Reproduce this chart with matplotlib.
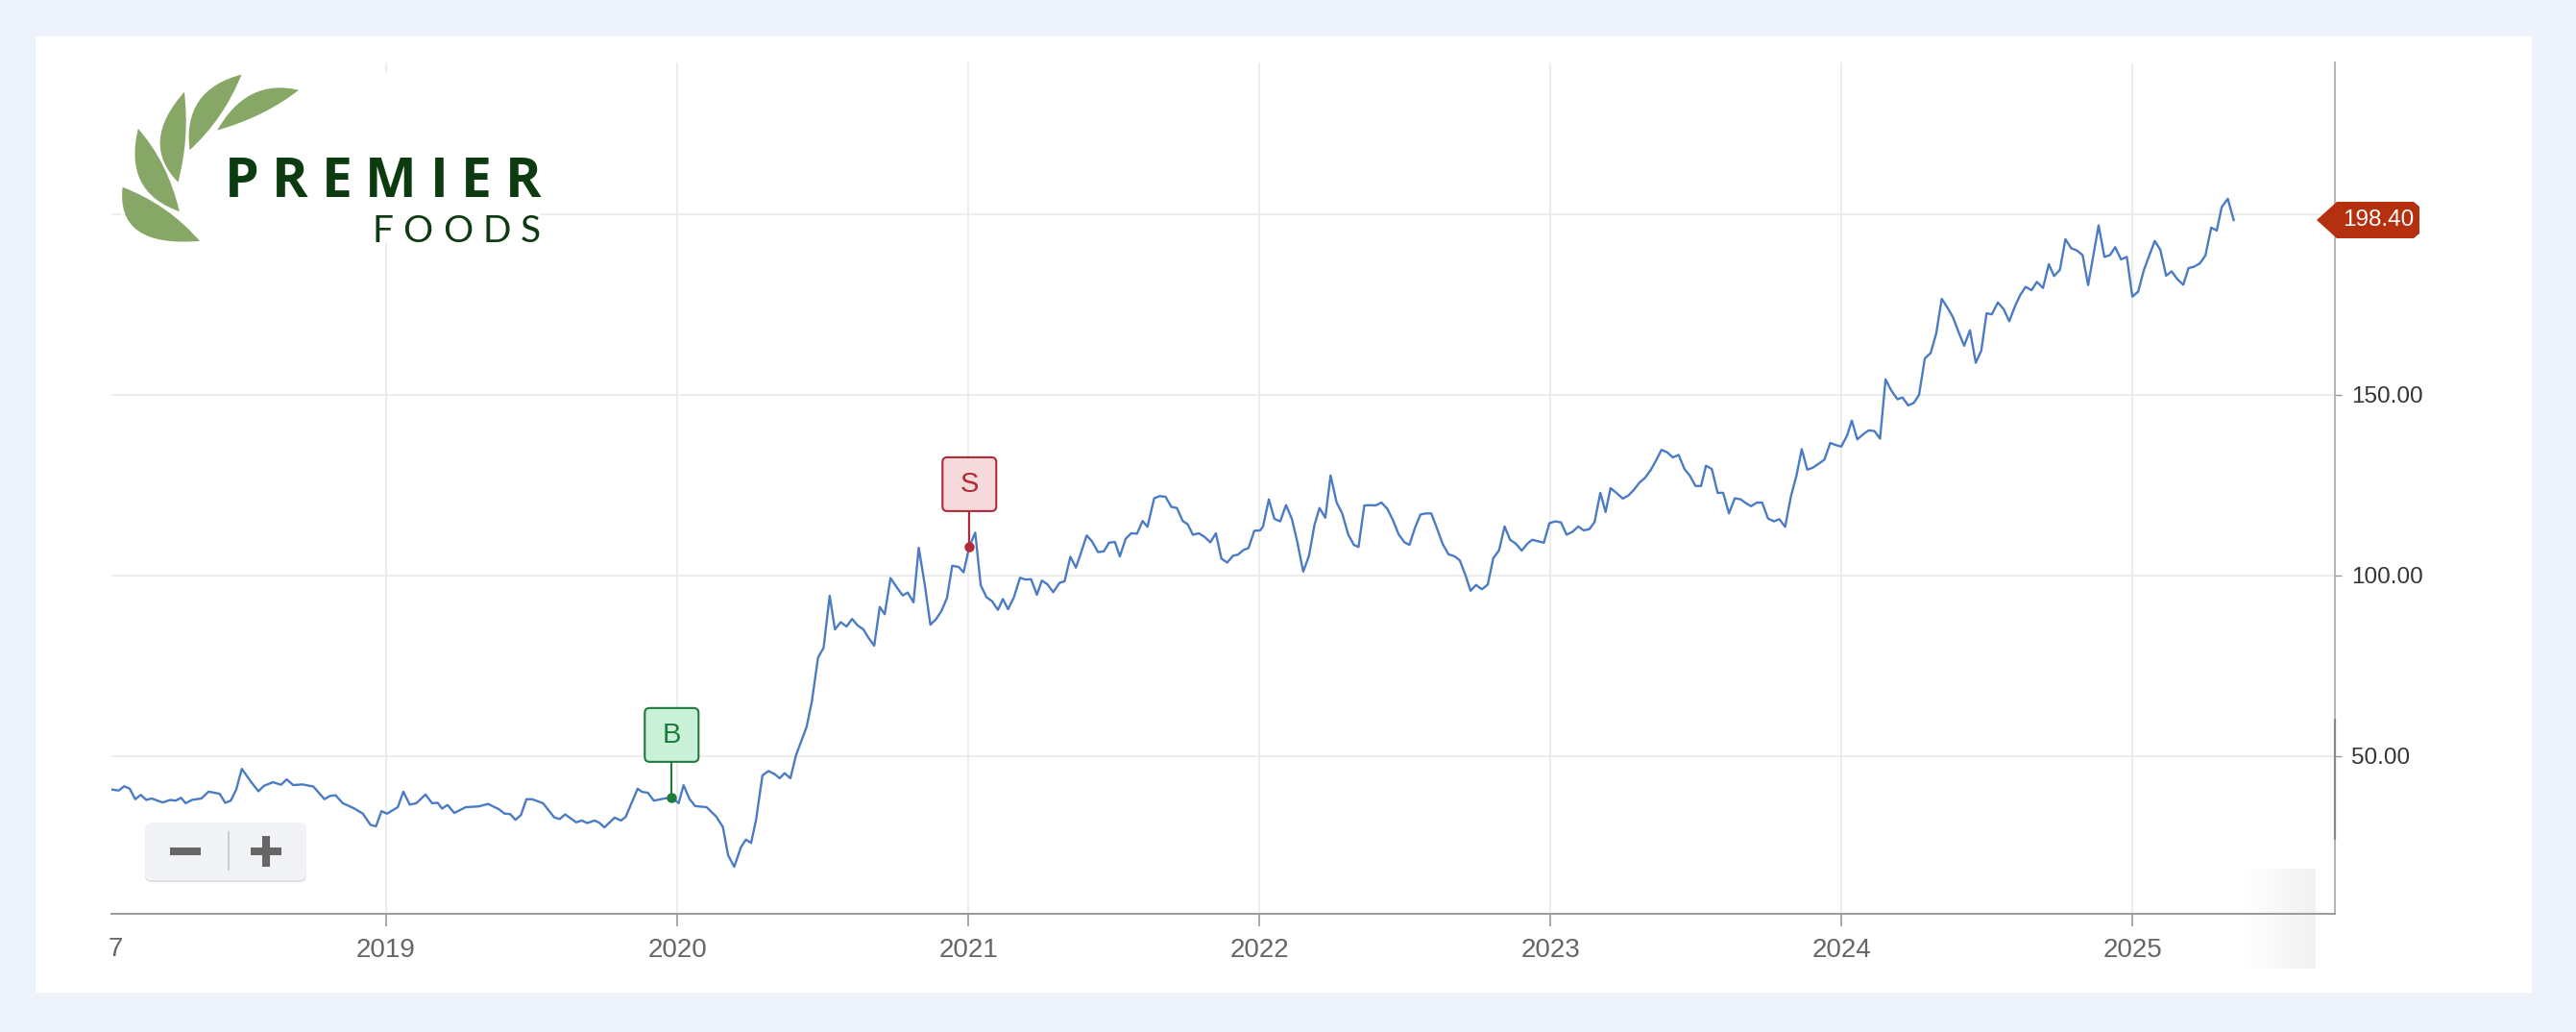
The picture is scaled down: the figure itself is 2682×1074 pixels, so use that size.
import numpy as np
import matplotlib.pyplot as plt
from matplotlib.patches import FancyBboxPatch, Rectangle, Polygon, PathPatch
from matplotlib.path import Path
from matplotlib.lines import Line2D
from matplotlib.transforms import Affine2D, ScaledTranslation
from matplotlib.colors import LinearSegmentedColormap

plt.rcParams['font.family'] = ['Liberation Sans', 'DejaVu Sans']

W, H = 2682, 1074

# weekly closes (decimal years)
years = [
    2018.056, 2018.081, 2018.100, 2018.119, 2018.138, 2018.157, 2018.176, 2018.194, 2018.232, 2018.258,
    2018.277, 2018.295, 2018.311, 2018.333, 2018.365, 2018.390, 2018.428, 2018.447, 2018.466, 2018.485,
    2018.504, 2018.535, 2018.561, 2018.580, 2018.611, 2018.639, 2018.658, 2018.681, 2018.712, 2018.750,
    2018.788, 2018.807, 2018.826, 2018.851, 2018.889, 2018.920, 2018.946, 2018.965, 2018.984, 2019.003,
    2019.040, 2019.059, 2019.081, 2019.104, 2019.135, 2019.158, 2019.177, 2019.192, 2019.211, 2019.234,
    2019.274, 2019.318, 2019.350, 2019.388, 2019.407, 2019.426, 2019.444, 2019.463, 2019.482, 2019.501,
    2019.539, 2019.577, 2019.596, 2019.615, 2019.653, 2019.672, 2019.691, 2019.716, 2019.732, 2019.750,
    2019.785, 2019.807, 2019.823, 2019.864, 2019.880, 2019.899, 2019.920, 2019.956, 2019.981,
    2020.005, 2020.022, 2020.042, 2020.062, 2020.101, 2020.134, 2020.157, 2020.175, 2020.196, 2020.219,
    2020.236, 2020.254, 2020.271, 2020.293, 2020.314, 2020.336, 2020.352, 2020.369, 2020.389, 2020.408,
    2020.445, 2020.463, 2020.484, 2020.503, 2020.524, 2020.542, 2020.562, 2020.582, 2020.601, 2020.620,
    2020.640, 2020.657, 2020.677, 2020.696, 2020.713, 2020.733, 2020.755, 2020.775, 2020.792, 2020.812,
    2020.830, 2020.851, 2020.870, 2020.890, 2020.908, 2020.927, 2020.945, 2020.967, 2020.984, 2021.004,
    2021.024, 2021.043, 2021.063, 2021.082, 2021.102, 2021.119, 2021.137, 2021.157, 2021.178, 2021.196,
    2021.216, 2021.236, 2021.253, 2021.272, 2021.292, 2021.314, 2021.331, 2021.351, 2021.370, 2021.387,
    2021.407, 2021.425, 2021.446, 2021.466, 2021.484, 2021.504, 2021.521, 2021.541, 2021.560, 2021.580,
    2021.599, 2021.616, 2021.639, 2021.658, 2021.678, 2021.698, 2021.717, 2021.737, 2021.754, 2021.772,
    2021.793, 2021.812, 2021.832, 2021.851, 2021.870, 2021.890, 2021.910, 2021.927, 2021.946, 2021.963,
    2021.983, 2022.003,
    2022.013, 2022.033, 2022.052, 2022.072, 2022.092, 2022.112, 2022.131, 2022.151, 2022.171, 2022.190,
    2022.207, 2022.227, 2022.245, 2022.266, 2022.285, 2022.306, 2022.325, 2022.341, 2022.361, 2022.381,
    2022.400, 2022.420, 2022.440, 2022.459, 2022.479, 2022.499, 2022.516, 2022.535, 2022.554, 2022.573,
    2022.591, 2022.610, 2022.630, 2022.650, 2022.672, 2022.689, 2022.709, 2022.726, 2022.745, 2022.765,
    2022.785, 2022.804, 2022.824, 2022.843, 2022.862, 2022.882, 2022.902, 2022.921, 2022.938, 2022.958,
    2022.978, 2022.997, 2023.017, 2023.037, 2023.056, 2023.076, 2023.096, 2023.115, 2023.135, 2023.152,
    2023.172, 2023.190, 2023.207, 2023.227, 2023.249, 2023.269, 2023.289, 2023.306, 2023.325, 2023.345,
    2023.365, 2023.382, 2023.402, 2023.421, 2023.441, 2023.461, 2023.479, 2023.499, 2023.518, 2023.535,
    2023.555, 2023.575, 2023.594, 2023.614, 2023.634, 2023.654, 2023.673, 2023.690, 2023.710, 2023.728,
    2023.748, 2023.768, 2023.787, 2023.807, 2023.827, 2023.846, 2023.864, 2023.883, 2023.903, 2023.923,
    2023.942, 2023.962, 2023.982,
    2024.000, 2024.020, 2024.036, 2024.055, 2024.075, 2024.094, 2024.114, 2024.133, 2024.152, 2024.171,
    2024.193, 2024.210, 2024.230, 2024.249, 2024.267, 2024.287, 2024.307, 2024.326, 2024.345, 2024.365,
    2024.383, 2024.403, 2024.422, 2024.442, 2024.462, 2024.481, 2024.499, 2024.517, 2024.538, 2024.558,
    2024.577, 2024.597, 2024.615, 2024.633, 2024.654, 2024.672, 2024.693, 2024.713, 2024.731, 2024.751,
    2024.770, 2024.790, 2024.809, 2024.829, 2024.848, 2024.865, 2024.884, 2024.904, 2024.923, 2024.941,
    2024.961, 2024.981, 2025.000, 2025.020, 2025.039, 2025.059, 2025.077, 2025.096, 2025.116, 2025.135,
    2025.155, 2025.175, 2025.193, 2025.212, 2025.232, 2025.251, 2025.271, 2025.290, 2025.307, 2025.328,
    2025.348,
]
prices = [
    40.8, 40.5, 41.7, 41.0, 38.1, 39.3, 37.9, 38.3, 37.2, 37.9,
    37.7, 38.5, 37.0, 37.9, 38.3, 40.2, 39.6, 37.1, 37.7, 40.8,
    46.5, 43.0, 40.3, 41.8, 42.8, 42.1, 43.6, 42.0, 42.2, 41.6,
    38.1, 39.0, 39.2, 37.0, 35.6, 34.1, 31.0, 30.6, 34.8, 34.1,
    35.9, 40.2, 36.6, 37.0, 39.4, 37.0, 37.1, 35.5, 36.5, 34.3,
    35.9, 36.1, 36.8, 35.3, 34.1, 34.0, 32.4, 33.7, 38.1, 38.1,
    37.0, 33.1, 32.6, 33.9, 31.7, 32.2, 31.5, 32.2, 31.6, 30.3,
    33.0, 32.2, 33.2, 41.0, 40.1, 39.9, 37.7, 38.3, 38.6,
    37.0, 42.0, 38.2, 36.2, 35.9, 33.3, 30.4, 22.6, 19.4, 24.8,
    26.9, 26.0, 32.4, 44.7, 45.9, 45.0, 43.9, 45.3, 43.9, 50.2,
    58.2, 65.3, 77.3, 80.0, 94.4, 85.1, 87.1, 85.9, 88.0, 86.2,
    85.1, 82.8, 80.6, 91.3, 89.3, 99.3, 96.7, 94.5, 95.3, 92.6,
    107.7, 97.3, 86.4, 88.0, 90.2, 93.8, 102.7, 102.4, 100.9, 108.0,
    111.9, 97.3, 94.0, 92.9, 90.5, 93.5, 90.7, 94.0, 99.4, 98.9,
    99.0, 94.7, 98.6, 97.6, 95.4, 98.0, 98.4, 105.2, 102.2, 106.2,
    111.1, 109.5, 106.5, 106.7, 109.1, 109.3, 105.3, 110.2, 111.7, 111.6,
    115.1, 113.5, 121.4, 122.0, 121.8, 119.0, 118.7, 115.1, 114.2, 111.3,
    111.7, 110.7, 109.2, 111.7, 104.7, 103.6, 105.5, 105.8, 107.1, 107.6,
    112.4, 112.5,
    113.6, 121.1, 115.7, 115.0, 119.5, 115.7, 109.2, 101.1, 105.5, 114.1,
    118.7, 116.0, 127.7, 120.2, 117.2, 111.3, 108.5, 107.9, 119.4, 119.5,
    119.4, 120.2, 118.5, 115.4, 111.4, 109.2, 108.5, 113.2, 116.9, 117.2,
    117.2, 113.2, 108.8, 105.9, 105.3, 104.2, 100.0, 95.8, 97.4, 96.2,
    97.5, 104.8, 107.0, 113.6, 109.9, 108.8, 106.9, 108.8, 109.9, 109.5,
    109.1, 114.5, 115.0, 114.7, 111.3, 112.1, 113.6, 112.5, 112.9, 114.8,
    122.9, 117.6, 124.2, 122.9, 121.3, 122.2, 123.9, 125.7, 127.0, 129.2,
    132.1, 134.8, 134.1, 132.7, 133.4, 129.5, 127.7, 124.8, 124.8, 130.4,
    129.5, 122.9, 122.9, 117.2, 121.4, 121.1, 120.0, 119.2, 120.2, 120.2,
    115.8, 115.0, 115.6, 113.5, 122.0, 127.7, 135.0, 129.3, 129.9, 131.0,
    132.1, 136.7, 136.1,
    135.7, 138.8, 142.9, 137.7, 139.1, 140.2, 140.0, 137.9, 154.3, 151.3,
    148.8, 149.3, 147.1, 147.8, 150.0, 160.1, 161.6, 167.0, 176.6, 174.1,
    171.6, 167.4, 163.6, 167.9, 158.9, 162.3, 172.6, 172.3, 175.6, 173.7,
    170.4, 174.6, 177.7, 179.9, 179.0, 181.3, 179.6, 186.2, 182.9, 184.6,
    193.1, 190.6, 190.0, 188.7, 180.4, 188.2, 196.9, 188.2, 188.7, 190.9,
    187.5, 188.2, 177.2, 178.6, 184.4, 188.8, 192.6, 190.2, 183.0, 184.2,
    182.0, 180.5, 185.1, 185.5, 186.4, 188.6, 196.3, 195.5, 202.0, 204.3,
    198.4,
]

trade_labels = ['B', 'S']
trade_years = [2019.981, 2021.004]
trade_prices = [38.6, 108.0]
trade_faces = ['#c9f1d8', '#f5d9db']
trade_edges = ['#1f7a3c', '#b12a38']

xtick_years = [2019, 2020, 2021, 2022, 2023, 2024, 2025]
ytick_vals = [50, 100, 150, 200]
last_price = 198.40

fig = plt.figure(figsize=(W / 100, H / 100), dpi=100, facecolor='#eef2fa')
px = Affine2D().scale(1 / W, -1 / H).translate(0, 1) + fig.transFigure

# white card
fig.add_artist(Rectangle((37, 38), 2599, 995, transform=px, fc='white', ec='none', zorder=-2))

# faint fade at the bottom right of the axis
grad_ax = fig.add_axes([2338 / W, 1 - 1008 / H, 73 / W, 104 / H], zorder=-1)
grad_ax.imshow(np.linspace(0, 1, 64)[None, :], aspect='auto',
               cmap=LinearSegmentedColormap.from_list('fade', ['#ffffff', '#f1f1f1']))
grad_ax.axis('off')

ax = fig.add_axes([116 / W, 1 - 951 / H, (2431 - 116) / W, (951 - 65) / H])
ax.set_facecolor('none')
ax.plot(years, prices, color='#4a7bc4', lw=1.7, zorder=3, solid_joinstyle='round')
ax.set_xlim(2018.056, 2025.696)
ax.set_ylim(6.38, 242.02)

ax.grid(True, color='#e8e8e8', lw=1.1)
ax.set_axisbelow(True)
for s in ('top', 'left'):
    ax.spines[s].set_visible(False)
ax.spines['bottom'].set_color('#9a9a9a')
ax.spines['bottom'].set_linewidth(1.4)
ax.spines['right'].set_color('#a8a8a8')
ax.spines['right'].set_linewidth(1.2)

ax.set_xticks(xtick_years)
ax.set_xticklabels([str(y) for y in xtick_years])
ax.yaxis.tick_right()
ax.set_yticks(ytick_vals)
ax.set_yticklabels(['' if v == 200 else f'{v:.2f}' for v in ytick_vals])
ax.tick_params(axis='x', direction='out', length=9, width=1.2, color='#9a9a9a',
               labelsize=20, labelcolor='#666666', pad=9)
ax.tick_params(axis='y', direction='out', length=5, width=1.0, color='#9a9a9a',
               labelsize=17.5, labelcolor='#333333', pad=7)

# clipped label at the left edge
fig.text(128 / W, 1 - 988 / H, '7', ha='right', va='center', fontsize=20, color='#666666')

# navigator handle on the right spine
fig.add_artist(Line2D([2431, 2431], [749, 873], transform=px, color='#8a8a8a', lw=1.6, zorder=2))

# buy / sell flags
for lab, tx, tp, fc, ec in zip(trade_labels, trade_years, trade_prices, trade_faces, trade_edges):
    ax.plot(tx, tp, 'o', color=ec, ms=6.5, zorder=5)
    tr = fig.dpi_scale_trans + ScaledTranslation(tx, tp, ax.transData)
    fig.add_artist(Line2D([0, 0], [0, 0.37], transform=tr, color=ec, lw=1.5, zorder=6))
    fig.add_artist(FancyBboxPatch((-0.28, 0.37), 0.56, 0.56, boxstyle='round,pad=0,rounding_size=0.05',
                                  transform=tr, fc=fc, ec=ec, lw=1.5, zorder=6))
    fig.text(0, 0.65, lab, transform=tr, ha='center', va='center', fontsize=21, color=ec, zorder=7)

# last price tag
tr = fig.dpi_scale_trans + ScaledTranslation(2025.696, last_price, ax.transData)
tag = [(-0.19, 0), (0.02, 0.19), (0.82, 0.19), (0.88, 0.14), (0.88, -0.14), (0.82, -0.19), (0.02, -0.19)]
fig.add_artist(Polygon(tag, closed=True, transform=tr, fc='#b5300f', ec='none', zorder=8))
fig.text(0.45, 0, f'{last_price:.2f}', transform=tr, ha='center', va='center', fontsize=17.5,
         color='white', zorder=9)

# zoom buttons
fig.add_artist(FancyBboxPatch((151, 858), 168, 60, boxstyle='round,pad=0,rounding_size=7',
                              transform=px, fc='#dfe0e5', ec='none', zorder=4))
fig.add_artist(FancyBboxPatch((151, 856), 168, 60, boxstyle='round,pad=0,rounding_size=7',
                              transform=px, fc='#f2f3f7', ec='none', zorder=4))
fig.add_artist(Line2D([238, 238], [866, 905], transform=px, color='#c6c7cc', lw=1.2, zorder=5))
fig.add_artist(Line2D([177, 209], [886, 886], transform=px, color='#666666', lw=5.8,
                      solid_capstyle='butt', zorder=5))
fig.add_artist(Line2D([261, 293], [886, 886], transform=px, color='#666666', lw=5.8,
                      solid_capstyle='butt', zorder=5))
fig.add_artist(Line2D([277, 277], [870, 902], transform=px, color='#666666', lw=5.8,
                      solid_capstyle='butt', zorder=5))

# logo
fig.add_artist(Rectangle((127, 76), 436, 176, transform=px, fc='white', ec='none', zorder=4))
leaves = [
    ((126.7, 193.3), (210.0, 251.7), (118.5, 260.0), (176.5, 212.0)),
    ((143.3, 131.7), (188.3, 221.7), (125.5, 201.0), (176.0, 168.0)),
    ((192.7, 93.3), (186.0, 191.7), (142.0, 148.7), (199.0, 143.5)),
    ((253.3, 76.0), (196.7, 158.3), (187.5, 92.0), (234.0, 125.0)),
    ((313.3, 93.3), (224.0, 137.3), (256.5, 78.3), (276.0, 123.0)),
]
for a, b, co, ci in leaves:
    verts = [a, co, b, ci, a, a]
    codes = [Path.MOVETO, Path.CURVE3, Path.CURVE3, Path.CURVE3, Path.CURVE3, Path.CLOSEPOLY]
    fig.add_artist(PathPatch(Path(verts, codes), transform=px, fc='#87a766', ec='white',
                             lw=1.5, zorder=5))


def spaced(s, x0, x1, y_base, **kw):
    r = fig.canvas.get_renderer()
    ts = [fig.text(0, 1 - y_base / H, c, ha='left', va='baseline', zorder=6, **kw) for c in s]
    ws = [t.get_window_extent(r).width for t in ts]
    gap = ((x1 - x0) - sum(ws)) / (len(s) - 1)
    x = x0
    for t, w in zip(ts, ws):
        t.set_x(x / W)
        x += w + gap


spaced('PREMIER', 234, 563, 205, fontsize=41, fontweight='bold', color='#0b3b0e',
       family=['Open Sans', 'DejaVu Sans'])
spaced('FOODS', 387, 563, 252, fontsize=28, fontweight='normal', color='#0d3a10',
       family=['Lato', 'DejaVu Sans'])

fig.savefig('out.png', dpi=100, facecolor=fig.get_facecolor())
